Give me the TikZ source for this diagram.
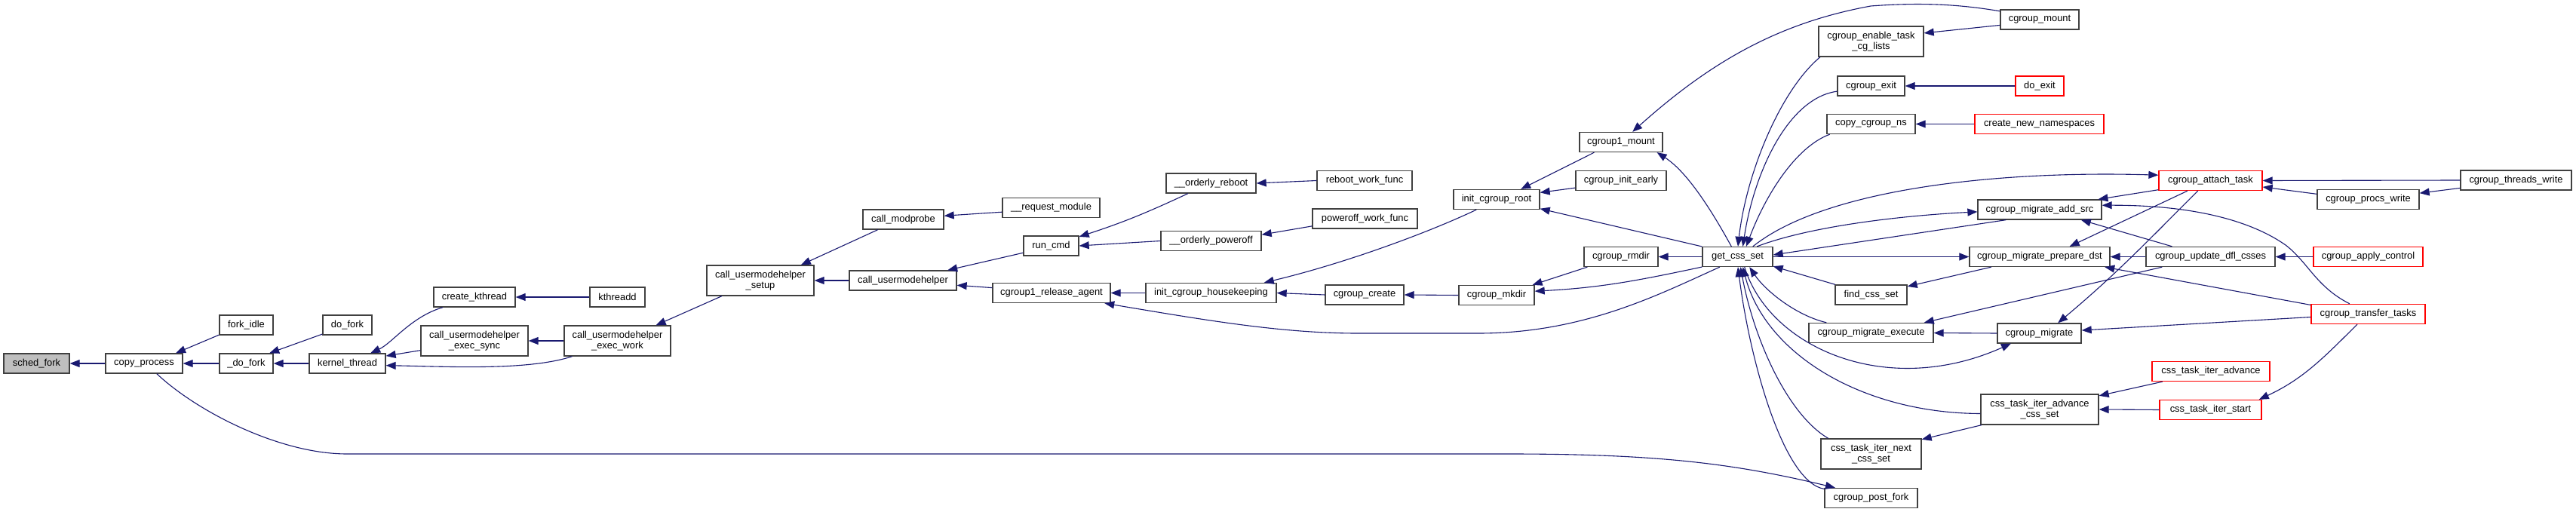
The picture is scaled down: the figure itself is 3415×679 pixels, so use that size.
\documentclass[tikz,border=0pt]{standalone}
\usepackage{fontspec}
\setmainfont{Liberation Sans}
\usepackage{tikz}
\usetikzlibrary{arrows.meta}
\usepackage{xcolor}
\definecolor{edgeblue}{RGB}{25,25,112}
\definecolor{boxgray}{RGB}{64,64,64}
\definecolor{truncred}{RGB}{255,0,0}
\definecolor{rootgray}{RGB}{191,191,191}

\begin{document}
\begin{tikzpicture}[x=1pt, y=-1pt,
  fn/.style={draw=boxgray, line width=1.3pt, fill=white, inner sep=0pt, minimum height=26pt, align=center, font=\fontsize{12.9}{14.3}\selectfont},
  fnred/.style={fn, draw=truncred},
  call/.style={draw=edgeblue, line width=1.1pt, {Triangle[length=13pt,width=10pt]}-}]
  \useasboundingbox (0,0) rectangle (3415,679);

  \node[fn, fill=rootgray, minimum width=87pt] (schedfork) at (48.5,482) {sched\_fork};
  \node[fn, minimum width=102pt] (copyprocess) at (191,482) {copy\_process};
  \node[fn, minimum width=71pt] (forkidle) at (326.5,431) {fork\_idle};
  \node[fn, minimum width=71pt] (udofork) at (326.5,482) {\_do\_fork};
  \node[fn, minimum width=65pt] (dofork) at (460.5,431) {do\_fork};
  \node[fn, minimum width=101pt] (kernelthread) at (460.5,482) {kernel\_thread};
  \node[fn, minimum width=108pt] (createkthread) at (629,394) {create\_kthread};
  \node[fn, minimum width=73pt] (kthreadd) at (818.5,394) {kthreadd};
  \node[fn, minimum width=142pt, minimum height=40pt] (execsync) at (629,452) {call\_usermodehelper\\\_exec\_sync};
  \node[fn, minimum width=141pt, minimum height=40pt] (execwork) at (818.5,452) {call\_usermodehelper\\\_exec\_work};
  \node[fn, minimum width=142pt, minimum height=40pt] (setup) at (1008,372) {call\_usermodehelper\\\_setup};
  \node[fn, minimum width=107pt] (modprobe) at (1197.5,291) {call\_modprobe};
  \node[fn, minimum width=142pt] (cuh) at (1197,372) {call\_usermodehelper};
  \node[fn, minimum width=129pt] (requestmodule) at (1393.5,275.5) {\_\_request\_module};
  \node[fn, minimum width=73pt] (runcmd) at (1393.5,326) {run\_cmd};
  \node[fn, minimum width=156pt] (releaseagent) at (1394,388.5) {cgroup1\_release\_agent};
  \node[fn, minimum width=119pt] (orderlyreboot) at (1605.5,243) {\_\_orderly\_reboot};
  \node[fn, minimum width=133pt] (orderlypoweroff) at (1605.5,319.5) {\_\_orderly\_poweroff};
  \node[fn, minimum width=173pt] (housekeeping) at (1605.5,388.5) {init\_cgroup\_housekeeping};
  \node[fn, minimum width=126pt] (rebootwork) at (1809,239.5) {reboot\_work\_func};
  \node[fn, minimum width=139pt] (poweroffwork) at (1809.5,290) {poweroff\_work\_func};
  \node[fn, minimum width=104pt] (cgroupcreate) at (1809,391) {cgroup\_create};
  \node[fn, minimum width=114pt] (cgrouproot) at (1984,264.5) {init\_cgroup\_root};
  \node[fn, minimum width=100pt] (cgroupmkdir) at (1984,391.5) {cgroup\_mkdir};
  \node[fn, minimum width=110pt] (cgroupmount1) at (2149,188.5) {cgroup1\_mount};
  \node[fn, minimum width=120pt] (initearly) at (2149,239.5) {cgroup\_init\_early};
  \node[fn, minimum width=98pt] (cgrouprmdir) at (2149,340.5) {cgroup\_rmdir};
  \node[fn, minimum width=93pt] (getcssset) at (2303.5,340.5) {get\_css\_set};
  \node[fn, minimum width=139pt, minimum height=40pt] (enabletask) at (2480.5,55) {cgroup\_enable\_task\\\_cg\_lists};
  \node[fn, minimum width=89pt] (cgroupexit) at (2480.5,114) {cgroup\_exit};
  \node[fn, minimum width=117pt] (copyns) at (2480.5,164.5) {copy\_cgroup\_ns};
  \node[fn, minimum width=95pt] (findcssset) at (2480.5,391) {find\_css\_set};
  \node[fn, minimum width=165pt] (execute) at (2480.5,441.5) {cgroup\_migrate\_execute};
  \node[fn, minimum width=133pt, minimum height=40pt] (nextcssset) at (2480.5,602) {css\_task\_iter\_next\\\_css\_set};
  \node[fn, minimum width=123pt] (postfork) at (2480.5,660.5) {cgroup\_post\_fork};
  \node[fn, minimum width=104pt] (cgroupmount) at (2704,26) {cgroup\_mount};
  \node[fnred, minimum width=64pt] (doexit) at (2704,114) {do\_exit};
  \node[fnred, minimum width=171pt] (newnamespaces) at (2703.5,164.5) {create\_new\_namespaces};
  \node[fn, minimum width=164pt] (addsrc) at (2704,278) {cgroup\_migrate\_add\_src};
  \node[fn, minimum width=186pt] (preparedst) at (2704,340.5) {cgroup\_migrate\_prepare\_dst};
  \node[fn, minimum width=111pt] (cgroupmigrate) at (2703.5,442) {cgroup\_migrate};
  \node[fn, minimum width=156pt, minimum height=40pt] (advancecssset) at (2704,543) {css\_task\_iter\_advance\\\_css\_set};
  \node[fnred, minimum width=137pt] (attachtask) at (2930.5,239.5) {cgroup\_attach\_task};
  \node[fn, minimum width=171pt] (updatedfl) at (2930.5,340.5) {cgroup\_update\_dfl\_csses};
  \node[fnred, minimum width=156pt] (iteradvance) at (2931,492.5) {css\_task\_iter\_advance};
  \node[fnred, minimum width=135pt] (iterstart) at (2930.5,543.5) {css\_task\_iter\_start};
  \node[fn, minimum width=135pt] (procswrite) at (3139.5,264.5) {cgroup\_procs\_write};
  \node[fnred, minimum width=145pt] (applycontrol) at (3139.5,340.5) {cgroup\_apply\_control};
  \node[fnred, minimum width=151pt] (transfertasks) at (3139.5,416.5) {cgroup\_transfer\_tasks};
  \node[fn, minimum width=147pt] (threadswrite) at (3335.5,239) {cgroup\_threads\_write};

  \draw[call] (schedfork.east) -- (copyprocess.west);
  \draw[call] (copyprocess.18) -- (forkidle.200);
  \draw[call] (copyprocess.east) -- (udofork.west);
  \draw[call] (udofork.24) -- (dofork.200);
  \draw[call] (udofork.east) -- (kernelthread.west);
  \draw[call] (kernelthread.24) .. controls (520,455) and (545,420) .. (createkthread.198);
  \draw[call] (kernelthread.11) -- (execsync.190);
  \draw[call] (kernelthread.-3) .. controls (590,486) and (700,492) .. (execwork.199);
  \draw[call] (createkthread.east) -- (kthreadd.west);
  \draw[call] (execsync.east) -- (execwork.west);
  \draw[call] (execwork.22) -- (setup.202);
  \draw[call] (postfork.164) .. controls (2300,615) and (2200,602) .. (2000,602) -- (460,602) .. controls (370,602) and (260,545) .. (copyprocess.-39);

  \draw[call] (setup.21) -- (modprobe.202);
  \draw[call] (setup.east) -- (cuh.west);
  \draw[call] (modprobe.5) -- (requestmodule.185);
  \draw[call] (cuh.13) -- (runcmd.194);
  \draw[call] (cuh.-5) -- (releaseagent.175);
  \draw[call] (runcmd.18) to[out=18,in=205] (orderlyreboot.204);
  \draw[call] (runcmd.east) -- (orderlypoweroff.west);
  \draw[call] (orderlyreboot.east) -- (rebootwork.west);
  \draw[call] (orderlypoweroff.7) -- (poweroffwork.188);
  \draw[call] (releaseagent.east) -- (housekeeping.west);
  \draw[call] (releaseagent.-11) .. controls (1600,425) and (1700,442) .. (1800,442) -- (1960,442) .. controls (2100,442) and (2200,390) .. (getcssset.210);
  \draw[call] (housekeeping.11) .. controls (1780,350) and (1890,310) .. (cgrouproot.207);
  \draw[call] (housekeeping.east) -- (cgroupcreate.west);
  \draw[call] (cgroupcreate.east) -- (cgroupmkdir.west);
  \draw[call] (cgrouproot.23) -- (cgroupmount1.201);
  \draw[call] (cgrouproot.9) -- (initearly.189);
  \draw[call] (cgrouproot.-12) -- (getcssset.164);
  \draw[call] (cgroupmount1.-16) .. controls (2240,230) and (2275,290) .. (getcssset.121);
  \draw[call] (cgroupmount1.42) .. controls (2270,80) and (2360,30) .. (2480,8) .. controls (2560,2) and (2610,8) .. (cgroupmount.168);
  \draw[call] (cgroupmkdir.16) -- (cgrouprmdir.197);
  \draw[call] (cgroupmkdir.6) to[out=3,in=192] (getcssset.196);
  \draw[call] (cgrouprmdir.east) -- (getcssset.west);

  \draw[call] (getcssset.88) .. controls (2315,230) and (2360,120) .. (enabletask.197);
  \draw[call] (getcssset.63) .. controls (2325,230) and (2370,130) .. (cgroupexit.189);
  \draw[call] (getcssset.50) .. controls (2340,260) and (2380,195) .. (copyns.194);
  \draw[call] (attachtask.174) .. controls (2650,226) and (2420,250) .. (getcssset.34);
  \draw[call] (addsrc.182) .. controls (2520,286) and (2400,300) .. (getcssset.28);
  \draw[call] (getcssset.3) -- (addsrc.197);
  \draw[call] (preparedst.west) -- (getcssset.east);
  \draw[call] (getcssset.-15) -- (findcssset.164);
  \draw[call] (findcssset.13) -- (preparedst.192);
  \draw[call] (getcssset.-41) .. controls (2340,385) and (2380,418) .. (execute.167);
  \draw[call] (execute.11) -- (updatedfl.192);
  \draw[call] (execute.east) -- (cgroupmigrate.west);
  \draw[call] (cgroupmigrate.200) .. controls (2500,530) and (2345,460) .. (getcssset.-56);
  \draw[call] (getcssset.-63) .. controls (2340,470) and (2470,548) .. (advancecssset.184);
  \draw[call] (getcssset.-74) .. controls (2325,450) and (2370,550) .. (nextcssset.160);
  \draw[call] (getcssset.-88) .. controls (2320,480) and (2365,640) .. (postfork.169);
  \draw[call] (enabletask.9) -- (cgroupmount.188);
  \draw[call] (cgroupexit.east) -- (doexit.west);
  \draw[call] (copyns.east) -- (newnamespaces.west);
  \draw[call] (addsrc.10) -- (attachtask.190);
  \draw[call] (addsrc.4) .. controls (2900,272) and (2980,290) .. (3030,325) .. controls (3060,348) and (3070,380) .. (transfertasks.151);
  \draw[call] (addsrc.-14) -- (updatedfl.165);
  \draw[call] (preparedst.19) -- (attachtask.204);
  \draw[call] (preparedst.east) -- (updatedfl.west);
  \draw[call] (preparedst.-9) -- (transfertasks.171);
  \draw[call] (cgroupmigrate.29) to[out=40,in=225] (attachtask.219);
  \draw[call] (cgroupmigrate.4) -- (transfertasks.183);
  \draw[call] (attachtask.east) -- (threadswrite.west);
  \draw[call] (attachtask.-7) -- (procswrite.174);
  \draw[call] (procswrite.7) -- (threadswrite.188);
  \draw[call] (updatedfl.east) -- (applycontrol.west);
  \draw[call] (advancecssset.13) -- (iteradvance.192);
  \draw[call] (advancecssset.east) -- (iterstart.west);
  \draw[call] (nextcssset.16) -- (advancecssset.195);
  \draw[call] (iterstart.12) to[out=25,in=225] (transfertasks.223);
\end{tikzpicture}
\end{document}
